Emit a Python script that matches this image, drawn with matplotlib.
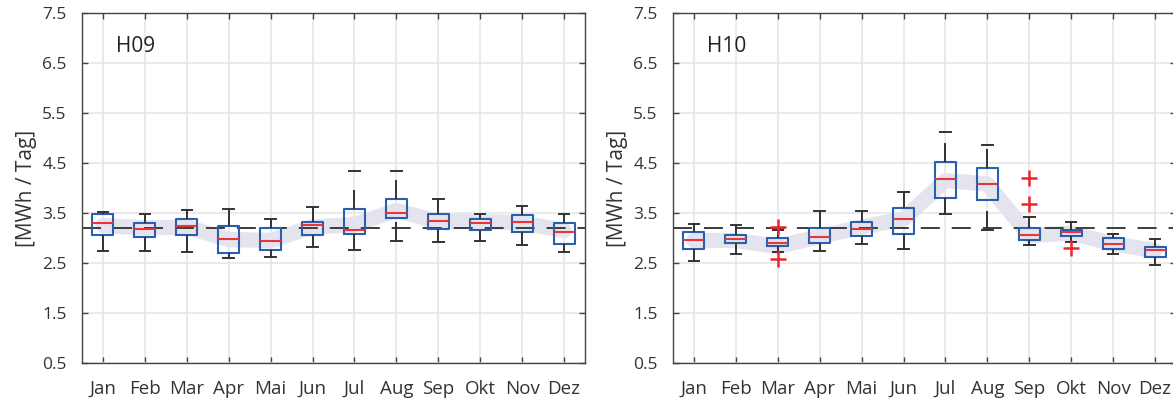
import matplotlib
matplotlib.use("Agg")
import matplotlib.pyplot as plt

plt.rcParams['font.family'] = ['Open Sans', 'DejaVu Sans']
plt.rcParams['lines.scale_dashes'] = False

months = ['Jan', 'Feb', 'Mar', 'Apr', 'Mai', 'Jun', 'Jul', 'Aug', 'Sep', 'Okt', 'Nov', 'Dez']

# H09: daily consumption per month [MWh / Tag]
h09_whislo = [2.74, 2.74, 2.72, 2.61, 2.62, 2.83, 2.77, 2.94, 2.92, 2.94, 2.86, 2.72]
h09_q1     = [3.06, 3.02, 3.07, 2.71, 2.76, 3.06, 3.09, 3.40, 3.18, 3.17, 3.13, 2.88]
h09_med    = [3.31, 3.19, 3.24, 2.98, 2.95, 3.26, 3.17, 3.50, 3.34, 3.30, 3.33, 3.13]
h09_q3     = [3.48, 3.30, 3.38, 3.24, 3.21, 3.32, 3.58, 3.78, 3.48, 3.38, 3.46, 3.30]
h09_whishi = [3.53, 3.48, 3.56, 3.58, 3.38, 3.63, 4.34, 4.35, 3.78, 3.48, 3.64, 3.48]
h09_fliers = [[], [], [], [], [], [], [], [], [], [], [], []]
h09_mean   = [3.25, 3.20, 3.22, 2.97, 2.95, 3.22, 3.27, 3.55, 3.33, 3.33, 3.30, 3.15]
h09_year   = 3.2

# H10: daily consumption per month [MWh / Tag]
h10_whislo = [2.54, 2.68, 2.73, 2.74, 2.88, 2.78, 3.49, 3.16, 2.86, 2.92, 2.68, 2.46]
h10_q1     = [2.78, 2.90, 2.84, 2.91, 3.04, 3.09, 3.80, 3.76, 2.96, 3.04, 2.78, 2.62]
h10_med    = [2.97, 2.98, 2.90, 3.02, 3.19, 3.38, 4.18, 4.09, 3.06, 3.12, 2.88, 2.77]
h10_q3     = [3.12, 3.07, 3.00, 3.20, 3.32, 3.60, 4.52, 4.40, 3.21, 3.17, 3.00, 2.82]
h10_whishi = [3.28, 3.26, 3.17, 3.55, 3.54, 3.92, 5.13, 4.86, 3.43, 3.32, 3.09, 2.98]
h10_fliers = [[], [], [3.23, 2.58], [], [], [], [], [], [4.20, 3.68], [2.81], [], []]
h10_mean   = [2.95, 2.95, 2.83, 3.03, 3.22, 3.38, 4.15, 4.08, 3.05, 3.10, 2.88, 2.75]
h10_year   = 3.2

yticks = [0.5, 1.5, 2.5, 3.5, 4.5, 5.5, 6.5, 7.5]

BOX_BLUE = '#2b5eac'
MED_RED = '#e8353a'
WHISK = '#333333'
BAND = '#e3e4ee'
GRID = '#e4e4e4'
SPINE = '#444444'
TEXT = '#333333'

W, H = 1173, 403
fig = plt.figure(figsize=(W / 100, H / 100), dpi=100)
ax_left = fig.add_axes([82 / W, 40 / H, 503 / W, 350 / H])
ax_right = fig.add_axes([673 / W, 40 / H, 503 / W, 350 / H])


def draw_panel(ax, title, whislo, q1, med, q3, whishi, fliers, mean, year):
    pos = list(range(1, len(months) + 1))
    stats = []
    for i in range(len(months)):
        stats.append(dict(whislo=whislo[i], q1=q1[i], med=med[i], q3=q3[i],
                          whishi=whishi[i], fliers=fliers[i], label=months[i]))

    # smoothed monthly mean as a soft band
    ax.plot(pos, mean, color=BAND, lw=11, solid_capstyle='round',
            solid_joinstyle='round', zorder=1)

    # yearly reference level
    ax.axhline(year, color='#3c3c3c', lw=1.4, ls=(0, (13.7, 8.6)), zorder=2)

    art = ax.bxp(stats, positions=pos, widths=0.5, capwidths=0.25,
                 showfliers=True, patch_artist=False,
                 boxprops=dict(color=BOX_BLUE, lw=1.5),
                 medianprops=dict(color=MED_RED, lw=1.5),
                 whiskerprops=dict(color=WHISK, lw=1.4, ls=(0, (13.7, 13.7))),
                 capprops=dict(color=WHISK, lw=1.4),
                 flierprops=dict(marker='+', markeredgecolor='#f0262a',
                                 markersize=12, markeredgewidth=1.8, ls='none'),
                 zorder=3)
    # lower whiskers are traced from the cap up to the box
    for i, line in enumerate(art['whiskers'][0::2]):
        line.set_data([pos[i], pos[i]], [whislo[i], q1[i]])
    for line in art['medians']:
        line.set_zorder(4)
    for line in art['fliers']:
        line.set_zorder(5)

    ax.set_xlim(0.5, 12.5)
    ax.set_ylim(0.5, 7.5)
    ax.set_xticks(pos)
    ax.set_xticklabels(months)
    ax.set_yticks(yticks)
    ax.set_yticklabels([f'{v:.1f}' for v in yticks])
    ax.grid(True, color=GRID, lw=1.1, zorder=0)
    ax.set_axisbelow(True)
    ax.tick_params(direction='in', length=4, width=1.0, color=SPINE,
                   top=True, right=True, labelcolor=TEXT)
    ax.tick_params(axis='x', pad=12, labelsize=13.5)
    ax.tick_params(axis='y', pad=11, labelsize=12.5)
    for sp in ax.spines.values():
        sp.set_color(SPINE)
        sp.set_linewidth(1.0)
    ax.set_ylabel('[MWh / Tag]', fontsize=15, color=TEXT, labelpad=4)
    ax.text(0.068, 0.905, title, transform=ax.transAxes, fontsize=15,
            color='#222222', va='center', ha='left')


draw_panel(ax_left, 'H09', h09_whislo, h09_q1, h09_med, h09_q3, h09_whishi,
           h09_fliers, h09_mean, h09_year)
draw_panel(ax_right, 'H10', h10_whislo, h10_q1, h10_med, h10_q3, h10_whishi,
           h10_fliers, h10_mean, h10_year)

fig.savefig('out.png', dpi=100)
